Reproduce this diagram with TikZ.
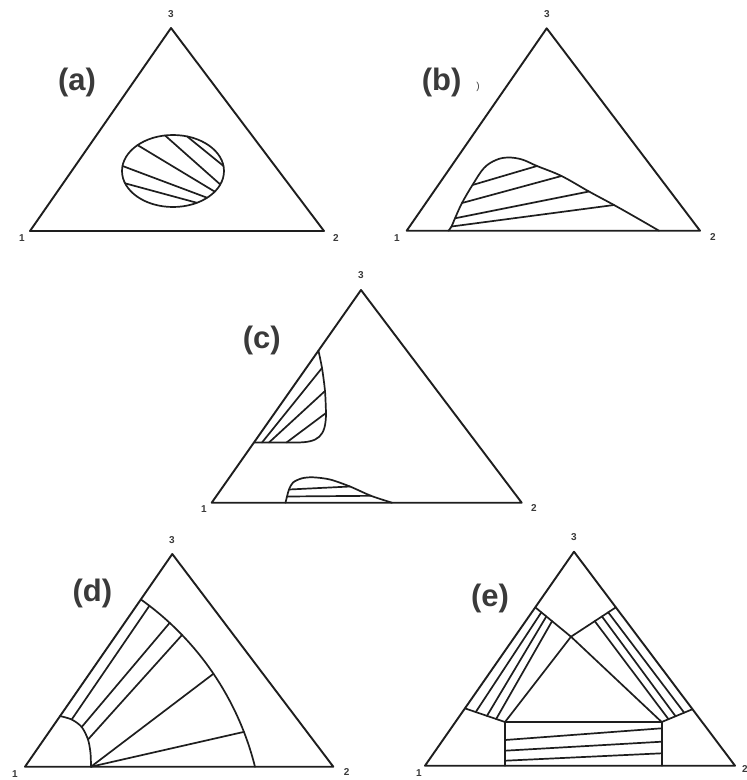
\documentclass[tikz,border=0pt]{standalone}
\usepackage{fontspec}
\setmainfont{Liberation Sans}
\usetikzlibrary{calc}
\definecolor{linec}{HTML}{1E1E1E}
\definecolor{labc}{HTML}{3A3A3A}
\begin{document}
\begin{tikzpicture}[x=1pt,y=-1pt,line join=round,line cap=round,
  tri/.style={draw=linec,line width=1.9pt},
  ln/.style={draw=linec,line width=1.7pt},
  vlab/.style={font=\fontsize{10}{10}\selectfont\bfseries,text=labc,inner sep=0pt},
  plab/.style={font=\fontsize{31}{31}\selectfont\bfseries,text=labc,inner sep=0pt}]
\useasboundingbox (0,0) rectangle (747,780);
\fill[white] (0,0) rectangle (747,780);

% ---------------- (a)
\coordinate (a1) at (30,231);
\coordinate (a2) at (324,231);
\coordinate (a3) at (171,28);
\draw[tri] (a1) -- (a2) -- (a3) -- cycle;
\node[vlab] (a1l) at (22,238) {1};
\node[vlab] (a2l) at (336,238) {2};
\node[vlab] (a3l) at (171,14) {3};
\node[plab] (ala) at (77,82) {(a)};
\coordinate (ae) at (173,171);
\draw[ln] (ae) ellipse [x radius=51, y radius=36];
\foreach \s/\e [count=\i] in {-74/-8, -99/22, -134/35, -172/48, 160/62}{
  \coordinate (ah\i) at ($(ae)+(\s:51 and 36)$);
  \coordinate (at\i) at ($(ae)+(\e:51 and 36)$);
  \draw[ln] (ah\i) -- (at\i);
}

% ---------------- (b)
\coordinate (b1) at (406.7,230.7);
\coordinate (b2) at (700,230.7);
\coordinate (b3) at (546.7,28.3);
\draw[tri] (b1) -- (b2) -- (b3) -- cycle;
\node[vlab] (b1l) at (397,238) {1};
\node[vlab] (b2l) at (713,237) {2};
\node[vlab] (b3l) at (547,14) {3};
\node[plab] (blb) at (441.7,82) {(b)};
\node[font=\fontsize{10}{10}\selectfont,text=labc,inner sep=0pt] (bpar) at (478,87) {)};
\coordinate (bs) at (448.5,230.7);
\coordinate (bl4) at (451.5,226.5);
\coordinate (bl3) at (455,218.3);
\coordinate (bl2) at (462,203);
\coordinate (bl1) at (472.5,185);
\coordinate (br1) at (537,166);
\coordinate (br2) at (561.5,176);
\coordinate (br3) at (589,191.5);
\coordinate (br4) at (614,205);
\coordinate (be) at (659,230.7);
\draw[ln] plot[smooth,tension=0.6] coordinates {(bs) (bl4) (bl3) (bl2) (bl1) (484,168) (496,160) (508,157.5) (522,159.5) (br1) (br2) (br3) (br4) (637,218) (be)};
\foreach \i in {1,2,3,4}{\draw[ln] (bl\i) -- (br\i);}

% ---------------- (c)
\coordinate (c1) at (211.7,502.7);
\coordinate (c2) at (521.7,502.7);
\coordinate (c3) at (361,290);
\draw[tri] (c1) -- (c2) -- (c3) -- cycle;
\node[vlab] (c1l) at (204,509) {1};
\node[vlab] (c2l) at (534,508) {2};
\node[vlab] (c3l) at (361,275) {3};
\node[plab] (clc) at (261.7,340) {(c)};
\coordinate (cT) at ($(c1)!0.715!(c3)$);
\coordinate (cB) at ($(c1)!0.283!(c3)$);
\coordinate (cu1) at (322,368);
\coordinate (cu2) at (325,391);
\coordinate (cu3) at (326,413);
\coordinate (cv1) at (262,442.5);
\coordinate (cv2) at (269,442.5);
\coordinate (cv3) at (286.5,442.5);
\draw[ln] plot[smooth] coordinates {(cT) (cu1) (cu2) (cu3)} .. controls (326,437) and (318,442.5) .. (296,442.5) -- (cB);
\foreach \i in {1,2,3}{\draw[ln] (cv\i) -- (cu\i);}
\coordinate (cl0) at (285.5,502.7);
\coordinate (cl1) at (287,496.5);
\coordinate (cl2) at (289,489.5);
\coordinate (cr2) at (350,486.5);
\coordinate (cr1) at (371,495.8);
\coordinate (cl9) at (392,502.7);
\draw[ln] plot[smooth] coordinates {(cl0) (cl1) (cl2) (293,482.5) (302,478.3) (313,477.3) (330,479.5) (cr2) (cr1) (cl9)};
\draw[ln] (cl1) -- (cr1);
\draw[ln] (cl2) -- (cr2);

% ---------------- (d)
\coordinate (d1) at (25,766.7);
\coordinate (d2) at (333.3,766.7);
\coordinate (d3) at (172.3,554);
\draw[tri] (d1) -- (d2) -- (d3) -- cycle;
\node[vlab] (d1l) at (15,774) {1};
\node[vlab] (d2l) at (346.7,772) {2};
\node[vlab] (d3l) at (172,540) {3};
\node[plab] (dld) at (92.3,593.3) {(d)};
\coordinate (dc) at (-28.4,837.5);
\draw[ln] plot[domain=-54.6:-14,samples=60] ({-28.4+292.1*cos(\x)},{837.5+292.1*sin(\x)});
\coordinate (dB0) at ($(dc)+(-52.5:292.1)$);
\coordinate (dB1) at ($(dc)+(-47.3:292.1)$);
\coordinate (dB2) at ($(dc)+(-43.9:292.1)$);
\coordinate (dB3) at ($(dc)+(-34.1:292.1)$);
\coordinate (dB4) at ($(dc)+(-21.2:292.1)$);
\coordinate (ds) at ($(d1)!0.238!(d3)$);
\coordinate (dq0) at (71.7,719.5);
\coordinate (dq1) at (81.7,727);
\coordinate (dq2) at (88,739.5);
\coordinate (dF) at (91,766.7);
\draw[ln] plot[smooth] coordinates {(ds) (dq0) (dq1) (dq2) (90.5,753) (dF)};
\draw[ln] (dq0) -- (dB0);
\draw[ln] (dq1) -- (dB1);
\draw[ln] (dq2) -- (dB2);
\draw[ln] (dF) -- (dB3);
\draw[ln] (dF) -- (dB4);

% ---------------- (e)
\coordinate (e1) at (425,765.7);
\coordinate (e2) at (735,765.7);
\coordinate (e3) at (574,551.7);
\draw[tri] (e1) -- (e2) -- (e3) -- cycle;
\node[vlab] (e1l) at (419,773) {1};
\node[vlab] (e2l) at (745,769) {2};
\node[vlab] (e3l) at (574,537) {3};
\node[plab] (ele) at (490,598.3) {(e)};
\coordinate (eLT) at ($(e1)!0.74!(e3)$);
\coordinate (eLB) at ($(e1)!0.268!(e3)$);
\coordinate (eRT) at ($(e2)!0.74!(e3)$);
\coordinate (eRB) at ($(e2)!0.264!(e3)$);
\coordinate (eC) at (571,636.7);
\coordinate (eIL) at (505,722);
\coordinate (eIR) at (661.7,722);
\coordinate (eBL) at (505,765.7);
\coordinate (eBR) at (661.7,765.7);
\draw[ln] (eLT) -- (eC) -- (eRT);
\draw[ln] (eLB) -- (eIL) -- (eIR) -- (eRB);
\draw[ln] (eIL) -- (eC) -- (eIR);
\draw[ln] (eIL) -- (eBL);
\draw[ln] (eIR) -- (eBR);
\foreach \p/\q in {0.17/0.27, 0.31/0.55, 0.47/0.78}{
  \draw[ln] ($(eLT)!\p!(eC)$) -- ($(eLB)!\q!(eIL)$);
  \draw[ln] ($(eRT)!\p!(eC)$) -- ($(eRB)!\q!(eIR)$);
}
\coordinate (eh1) at (505,740);
\coordinate (ek1) at (661.7,728.3);
\coordinate (eh2) at (505,750.7);
\coordinate (ek2) at (661.7,741.7);
\coordinate (eh3) at (505,760.7);
\coordinate (ek3) at (661.7,753.3);
\foreach \i in {1,2,3}{\draw[ln] (eh\i) -- (ek\i);}
\end{tikzpicture}
\end{document}
